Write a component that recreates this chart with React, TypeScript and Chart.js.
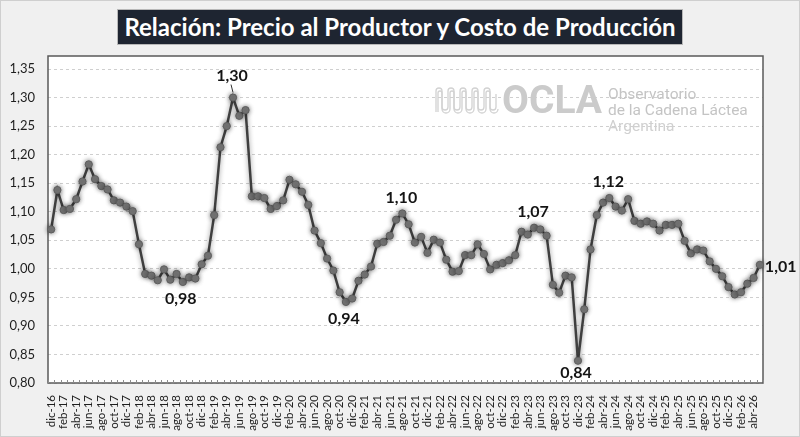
import React, { useEffect, useRef } from "react";
import { Chart, registerables } from "chart.js";

Chart.register(...registerables);

const months: string[] = [
  "dic-16",
  "ene-17", "feb-17", "mar-17", "abr-17", "may-17", "jun-17", "jul-17", "ago-17", "sep-17", "oct-17", "nov-17", "dic-17",
  "ene-18", "feb-18", "mar-18", "abr-18", "may-18", "jun-18", "jul-18", "ago-18", "sep-18", "oct-18", "nov-18", "dic-18",
  "ene-19", "feb-19", "mar-19", "abr-19", "may-19", "jun-19", "jul-19", "ago-19", "sep-19", "oct-19", "nov-19", "dic-19",
  "ene-20", "feb-20", "mar-20", "abr-20", "may-20", "jun-20", "jul-20", "ago-20", "sep-20", "oct-20", "nov-20", "dic-20",
  "ene-21", "feb-21", "mar-21", "abr-21", "may-21", "jun-21", "jul-21", "ago-21", "sep-21", "oct-21", "nov-21", "dic-21",
  "ene-22", "feb-22", "mar-22", "abr-22", "may-22", "jun-22", "jul-22", "ago-22", "sep-22", "oct-22", "nov-22", "dic-22",
  "ene-23", "feb-23", "mar-23", "abr-23", "may-23", "jun-23", "jul-23", "ago-23", "sep-23", "oct-23", "nov-23", "dic-23",
  "ene-24", "feb-24", "mar-24", "abr-24", "may-24", "jun-24", "jul-24", "ago-24", "sep-24", "oct-24", "nov-24", "dic-24",
  "ene-25", "feb-25", "mar-25", "abr-25", "may-25", "jun-25", "jul-25", "ago-25", "sep-25", "oct-25", "nov-25", "dic-25",
  "ene-26", "feb-26", "mar-26", "abr-26", "may-26",
];

const ratio: number[] = [
  1.069,
  1.138, 1.103, 1.105, 1.122, 1.153, 1.183, 1.157, 1.145, 1.139, 1.12, 1.116, 1.109,
  1.101, 1.043, 0.991, 0.988, 0.98, 0.999, 0.981, 0.991, 0.977, 0.985, 0.983, 1.008,
  1.023, 1.094, 1.213, 1.25, 1.3, 1.268, 1.278, 1.127, 1.127, 1.124, 1.105, 1.11,
  1.12, 1.156, 1.148, 1.135, 1.112, 1.067, 1.045, 1.018, 0.997, 0.959, 0.942, 0.948,
  0.979, 0.99, 1.004, 1.044, 1.047, 1.058, 1.086, 1.097, 1.078, 1.046, 1.056, 1.028,
  1.051, 1.046, 1.016, 0.995, 0.996, 1.024, 1.024, 1.043, 1.026, 0.999, 1.007, 1.01,
  1.015, 1.024, 1.065, 1.06, 1.072, 1.069, 1.058, 0.972, 0.958, 0.988, 0.985, 0.839,
  0.929, 1.034, 1.094, 1.116, 1.124, 1.109, 1.102, 1.122, 1.084, 1.079, 1.083, 1.079,
  1.067, 1.077, 1.077, 1.079, 1.049, 1.027, 1.034, 1.032, 1.013, 1.0, 0.987, 0.968,
  0.955, 0.959, 0.974, 0.984, 1.007,
];

const yTicks: number[] = [0.8, 0.85, 0.9, 0.95, 1.0, 1.05, 1.1, 1.15, 1.2, 1.25, 1.3, 1.35];

// Annotated points (index into ratio) and where their label sits
const labelIndex: number[] = [29, 21, 47, 56, 77, 84, 89, 113];
const labelSide: string[] = ["above", "below", "below", "above", "above", "below", "above", "right"];

const fmt = (v: number) => v.toFixed(2).replace(".", ",");
const FONT = 'Lato, "Open Sans", "DejaVu Sans", sans-serif';

const chartPlugin = {
  id: "oclaDecor",
  beforeDraw(chart: any) {
    const { ctx, chartArea: a } = chart;
    ctx.save();
    ctx.fillStyle = "#ffffff";
    ctx.fillRect(a.left, a.top, a.right - a.left, a.bottom - a.top);
    ctx.restore();
  },
  beforeDatasetsDraw(chart: any) {
    const { ctx, chartArea: a } = chart;
    const xs = chart.scales.x;
    // watermark
    ctx.save();
    ctx.strokeStyle = "#d2d2d2";
    ctx.lineWidth = 1.3;
    ctx.beginPath();
    const bx = 436, top = 88, bot = 110, r = 3;
    let x = bx;
    ctx.moveTo(x, bot + 2);
    for (let k = 0; k < 5; k++) {
      ctx.lineTo(x, top + r);
      ctx.arc(x + r, top + r, r, Math.PI, 0);
      ctx.lineTo(x + 2 * r, bot - r);
      ctx.arc(x + 3 * r, bot - r, r, Math.PI, 0, true);
      x += 4 * r;
    }
    ctx.lineTo(x, top + 6);
    ctx.stroke();
    ctx.beginPath();
    x = bx + 2;
    ctx.moveTo(x, bot + 2);
    for (let k = 0; k < 5; k++) {
      ctx.lineTo(x, top + r + 2);
      ctx.arc(x + r - 1, top + r + 2, r - 1, Math.PI, 0);
      ctx.lineTo(x + 2 * r - 2, bot - r + 2);
      ctx.arc(x + 3 * r - 1, bot - r + 2, r + 1, Math.PI, 0, true);
      x += 4 * r;
    }
    ctx.stroke();
    ctx.fillStyle = "#cbcbcb";
    ctx.font = `bold 39px Roboto, sans-serif`;
    ctx.textBaseline = "alphabetic";
    ctx.textAlign = "left";
    ctx.fillText("OCLA", 502, 113);
    ctx.fillStyle = "#c4c4c4";
    ctx.font = `15.5px Roboto, sans-serif`;
    ctx.fillText("Observatorio", 608, 99);
    ctx.fillText("de la Cadena Láctea", 608, 115);
    ctx.fillStyle = "#d0d0d0";
    ctx.fillText("Argentina", 608, 131);
    ctx.restore();

    // plot frame
    ctx.save();
    ctx.strokeStyle = "#5a5a5a";
    ctx.lineWidth = 1.5;
    ctx.strokeRect(a.left, a.top, a.right - a.left, a.bottom - a.top);
    // minor tick marks on category boundaries
    ctx.strokeStyle = "#8c8c8c";
    ctx.lineWidth = 1;
    const w = xs.getPixelForValue(1) - xs.getPixelForValue(0);
    for (let i = 0; i <= ratio.length; i++) {
      const px = Math.round(xs.getPixelForValue(i) - w / 2) + 0.5;
      ctx.beginPath();
      ctx.moveTo(px, a.bottom);
      ctx.lineTo(px, a.bottom - 3);
      ctx.stroke();
    }
    ctx.restore();

    ctx.save();
    ctx.shadowColor = "rgba(0,0,0,0.45)";
    ctx.shadowBlur = 5;
  },
  afterDatasetsDraw(chart: any) {
    const { ctx } = chart;
    ctx.restore();
    const meta = chart.getDatasetMeta(0);
    ctx.save();
    ctx.fillStyle = "#141414";
    ctx.font = `bold 16px ${FONT}`;
    ctx.textBaseline = "middle";
    labelIndex.forEach((idx, k) => {
      const pt = meta.data[idx];
      const txt = fmt(ratio[idx]);
      const side = labelSide[k];
      if (side === "above") {
        ctx.textAlign = "center";
        const off = ratio[idx] > 1.25 ? 22 : 16;
        ctx.fillText(txt, pt.x - 1, pt.y - off);
        if (ratio[idx] > 1.25) {
          ctx.save();
          ctx.strokeStyle = "#333";
          ctx.lineWidth = 1;
          ctx.beginPath();
          ctx.moveTo(pt.x - 2, pt.y - 13);
          ctx.lineTo(pt.x, pt.y - 5);
          ctx.stroke();
          ctx.restore();
        }
      } else if (side === "below") {
        ctx.textAlign = "center";
        const off = ratio[idx] < 0.9 ? 12 : 17;
        ctx.fillText(txt, pt.x - 2, pt.y + off);
      } else {
        ctx.textAlign = "left";
        ctx.fillText(txt, pt.x + 5, pt.y + 2);
      }
    });
    ctx.restore();
  },
};

export default function App() {
  const ref = useRef<HTMLCanvasElement | null>(null);

  useEffect(() => {
    if (!ref.current) return;
    Chart.defaults.font.family = FONT;
    const chart = new Chart(ref.current, {
      type: "line",
      data: {
        labels: months,
        datasets: [
          {
            data: ratio,
            borderColor: "#3f3f3f",
            borderWidth: 2.5,
            pointRadius: 3.6,
            pointBackgroundColor: "#7b7b7b",
            pointBorderColor: "#5e5e5e",
            pointBorderWidth: 1,
            tension: 0,
            clip: false as any,
          },
        ],
      },
      options: {
        animation: false,
        responsive: true,
        maintainAspectRatio: false,
        layout: { padding: { left: 0, top: 56, right: 37, bottom: 0 } },
        plugins: {
          legend: { display: false },
          tooltip: { enabled: false },
          title: { display: false },
        },
        scales: {
          x: {
            type: "category",
            offset: true,
            grid: { display: false },
            border: { display: false },
            afterFit: (s: any) => {
              s.height = 54;
            },
            ticks: {
              autoSkip: false,
              maxRotation: 90,
              minRotation: 90,
              padding: 4,
              color: "#1e1e1e",
              font: { size: 11.5 },
              callback: (_v: any, i: number) => (i % 2 === 0 ? months[i] : ""),
            },
          },
          y: {
            type: "linear",
            min: 0.8,
            max: 1.3728,
            afterBuildTicks: (s: any) => {
              s.ticks = yTicks.map((v) => ({ value: v }));
            },
            afterFit: (s: any) => {
              s.width = 48;
            },
            border: { display: false, dash: [3, 3] },
            grid: {
              color: "#cfcfcf",
              lineWidth: 1,
              drawTicks: false,
            },
            ticks: {
              padding: 13,
              color: "#1e1e1e",
              font: { size: 13 },
              callback: (v: any) => fmt(Number(v)),
            },
          },
        },
      },
      plugins: [chartPlugin],
    });
    return () => chart.destroy();
  }, []);

  return (
    <div
      style={{
        position: "absolute",
        left: 0,
        top: 0,
        width: 800,
        height: 437,
        boxSizing: "border-box",
        background: "#f0f0f0",
        border: "1px solid #cfcfcf",
      }}
    >
      <div
        style={{
          position: "absolute",
          left: 116,
          top: 8,
          width: 566,
          height: 36,
          boxSizing: "border-box",
          background: "#1e2531",
          border: "1px solid #b8b8b8",
          color: "#ffffff",
          fontFamily: FONT,
          fontWeight: 700,
          fontSize: 24,
          lineHeight: "34px",
          textAlign: "center",
          whiteSpace: "nowrap",
        }}
      >
        Relación: Precio al Productor y Costo de Producción
      </div>
      <div style={{ position: "absolute", left: -1, top: -1, width: 800, height: 437 }}>
        <canvas ref={ref} />
      </div>
    </div>
  );
}
